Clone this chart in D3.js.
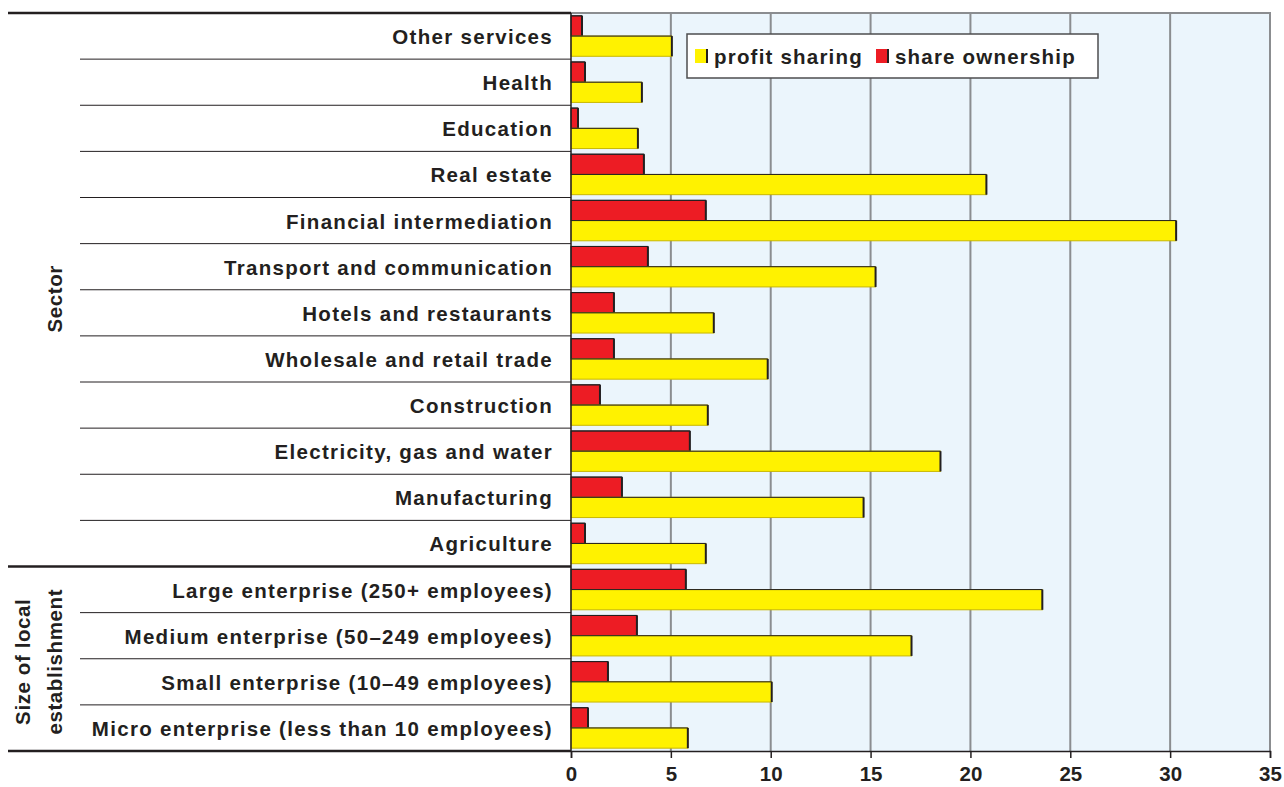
<!DOCTYPE html>
<html>

<head>
    <meta charset="UTF-8">
</head>

<body style="margin:0;background:#fff">
    <style>
        text {
            font-family: "Liberation Sans", Arial, sans-serif;
            font-weight: bold;
            fill: #231f20;
        }
    </style>

    <div id="chart"></div>

    <script src="https://d3js.org/d3.v7.min.js"></script>
    <script>

        // Categories from top to bottom
        const categories = [
            "Other services", "Health", "Education", "Real estate", "Financial intermediation",
            "Transport and communication", "Hotels and restaurants", "Wholesale and retail trade",
            "Construction", "Electricity, gas and water ", "Manufacturing", "Agriculture",
            "Large enterprise (250+ employees)", "Medium enterprise (50\u2013249 employees)",
            "Small enterprise (10\u201349 employees)", "Micro enterprise (less than 10 employees)"
        ];
        const profitSharing = [5.05, 3.55, 3.35, 20.8, 30.3, 15.25, 7.15, 9.85, 6.85, 18.5, 14.65, 6.75, 23.6, 17.05, 10.05, 5.85];
        const shareOwnership = [0.55, 0.7, 0.35, 3.65, 6.75, 3.85, 2.15, 2.15, 1.45, 5.95, 2.55, 0.7, 5.75, 3.3, 1.85, 0.85];
        const xTicks = [0, 5, 10, 15, 20, 25, 30, 35];
        const groups = [
            { lines: ["Sector"], first: 0, last: 11 },
            { lines: ["Size of local", "establishment"], first: 12, last: 15 }
        ];

        const W = 1284, H = 787;
        const plotL = 571, plotR = 1270, plotT = 13, plotB = 751;

        const svg = d3.select("#chart").append("svg")
            .attr("width", W).attr("height", H);

        const x = d3.scaleLinear().domain([0, 35]).range([plotL, plotR]);
        const y = d3.scaleBand().domain(categories).range([plotT, plotB]);
        const inner = d3.scaleBand().domain(["share", "profit"])
            .range([0, y.bandwidth()]).paddingOuter(0.14);

        // plot background
        svg.append("rect")
            .attr("x", plotL).attr("y", plotT)
            .attr("width", plotR - plotL).attr("height", plotB - plotT)
            .attr("fill", "#ebf5fc");

        // vertical grid lines
        svg.append("g").selectAll("line")
            .data(xTicks.slice(1))
            .join("line")
            .attr("x1", d => x(d)).attr("x2", d => x(d))
            .attr("y1", plotT).attr("y2", plotB)
            .attr("stroke", "#8b8d90").attr("stroke-width", 2);
        svg.append("line")
            .attr("x1", plotL).attr("x2", plotR + 1)
            .attr("y1", plotT).attr("y2", plotT)
            .attr("stroke", "#8b8d90").attr("stroke-width", 2);

        // bottom axis
        const xAxis = svg.append("g")
            .attr("transform", `translate(0,${plotB})`)
            .call(d3.axisBottom(x).tickValues(xTicks).tickSize(7).tickPadding(8));
        xAxis.select(".domain").attr("stroke", "#231f20").attr("stroke-width", 1.5);
        xAxis.selectAll(".tick line").attr("stroke", "#231f20").attr("stroke-width", 1.5);
        xAxis.selectAll(".tick text")
            .style("font-size", "20.5px")
            .attr("fill", "#231f20")
            .style("font-family", "\"Liberation Sans\", Arial, sans-serif")
            .style("font-weight", "bold");

        // bars
        function drawBars(values, key, fill, edge) {
            const g = svg.append("g");
            values.forEach((v, i) => {
                const y0 = y(categories[i]) + inner(key);
                const h = inner.bandwidth();
                const x0 = x(0), x1 = x(v);
                g.append("rect")
                    .attr("x", x0).attr("y", y0)
                    .attr("width", x1 - x0).attr("height", h)
                    .attr("fill", fill)
                    .attr("stroke", edge).attr("stroke-width", 1);
                g.append("line")
                    .attr("x1", x1).attr("x2", x1)
                    .attr("y1", y0).attr("y2", y0 + h)
                    .attr("stroke", "#231f20").attr("stroke-width", 2);
                g.append("line")
                    .attr("x1", x0).attr("x2", x1)
                    .attr("y1", y0).attr("y2", y0)
                    .attr("stroke", "#231f20").attr("stroke-width", 1);
            });
        }
        drawBars(shareOwnership, "share", "#ed1c24", "#231f20");
        drawBars(profitSharing, "profit", "#fff200", "#c9b800");

        // left axis line
        svg.append("line")
            .attr("x1", plotL).attr("x2", plotL)
            .attr("y1", plotT).attr("y2", plotB)
            .attr("stroke", "#231f20").attr("stroke-width", 1.5);

        // category separators and labels
        svg.append("g").selectAll("line")
            .data(categories.slice(1))
            .join("line")
            .attr("x1", 80).attr("x2", plotL)
            .attr("y1", d => y(d)).attr("y2", d => y(d))
            .attr("stroke", "#231f20").attr("stroke-width", 1);

        svg.append("g").selectAll("text")
            .data(categories)
            .join("text")
            .attr("x", 553)
            .attr("y", d => y(d) + y.bandwidth() / 2 + 8)
            .attr("text-anchor", "end")
            .style("font-size", "20.5px")
            .style("letter-spacing", "1.3px")
            .text(d => d);

        // group separators (thick)
        const thick = [plotT, y(categories[12]), plotB];
        svg.append("g").selectAll("line")
            .data(thick)
            .join("line")
            .attr("x1", 8).attr("x2", plotL)
            .attr("y1", d => d).attr("y2", d => d)
            .attr("stroke", "#231f20").attr("stroke-width", 2.5);

        // group labels
        groups.forEach((gr, k) => {
            const cy = (y(categories[gr.first]) + y(categories[gr.last]) + y.bandwidth()) / 2 + (k === 0 ? 9 : 3);
            const n = gr.lines.length;
            gr.lines.forEach((ln, j) => {
                const cx = n === 1 ? 62 : 30 + j * 32;
                svg.append("text")
                    .attr("transform", `translate(${cx},${cy}) rotate(-90)`)
                    .attr("text-anchor", "middle")
                    .style("font-size", "20.5px")
                    .style("letter-spacing", "0.6px")
                    .text(ln);
            });
        });

        // legend
        const legend = svg.append("g").attr("transform", "translate(687,34)");
        legend.append("rect")
            .attr("width", 411).attr("height", 44)
            .attr("fill", "#fff").attr("stroke", "#4d4d4f").attr("stroke-width", 1.5);
        const items = [
            { label: "profit sharing", fill: "#fff200", x: 8 },
            { label: "share ownership", fill: "#ed1c24", x: 189 }
        ];
        items.forEach(it => {
            legend.append("rect")
                .attr("x", it.x).attr("y", 15).attr("width", 13).attr("height", 14)
                .attr("fill", it.fill);
            legend.append("line")
                .attr("x1", it.x + 12).attr("x2", it.x + 12)
                .attr("y1", 15).attr("y2", 29)
                .attr("stroke", "#231f20").attr("stroke-width", 2);
            legend.append("text")
                .attr("x", it.x + 19).attr("y", 30)
                .style("font-size", "20.5px")
                .style("letter-spacing", "1.2px")
                .text(it.label);
        });

    </script>
</body>

</html>
